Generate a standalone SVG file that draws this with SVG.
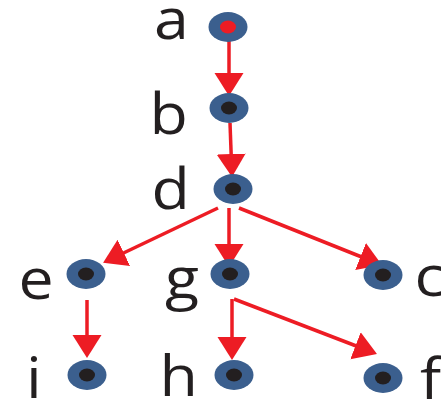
<svg xmlns="http://www.w3.org/2000/svg" width="441" height="400" viewBox="0 0 441 400">
<style>
.lbl{font-family:"Open Sans","Liberation Sans",sans-serif;font-size:56px;fill:#231f20}
.outer{fill:#3b5f8e}
.inner{fill:#231f20}
.edge{stroke:#ed1c24;stroke-width:3.5;fill:none}
</style>
<defs>
<marker id="ah" markerUnits="userSpaceOnUse" markerWidth="26" markerHeight="30" refX="12" refY="14.5" orient="auto" viewBox="0 0 26 30">
<path d="M0,0 L23,14.5 L0,29 z" fill="#ed1c24"/>
</marker>
</defs>
<rect width="441" height="400" fill="#ffffff"/>
<g id="connectors">
<line class="edge" x1="229" y1="41" x2="229" y2="85" marker-end="url(#ah)"/>
<line class="edge" x1="230" y1="123" x2="231.6" y2="166" marker-end="url(#ah)"/>
<line class="edge" x1="218" y1="208" x2="113" y2="258" marker-end="url(#ah)"/>
<line class="edge" x1="229" y1="208" x2="229" y2="256" marker-end="url(#ah)"/>
<line class="edge" x1="239" y1="208" x2="371.7" y2="261" marker-end="url(#ah)"/>
<line class="edge" x1="87" y1="300" x2="87" y2="347" marker-end="url(#ah)"/>
<line class="edge" x1="232" y1="299" x2="232" y2="349" marker-end="url(#ah)"/>
<line class="edge" x1="234" y1="299" x2="366.7" y2="350" marker-end="url(#ah)"/>
</g>
<g id="node-a"><ellipse class="outer" cx="228" cy="27" rx="19.5" ry="15"/><ellipse cx="228" cy="27" rx="8" ry="6.5" fill="#ed1c24"/><text class="lbl" transform="translate(154,39) scale(1.12,1)">a</text></g>
<g id="node-b"><ellipse class="outer" cx="229" cy="108" rx="19.5" ry="15"/><ellipse class="inner" cx="229" cy="108" rx="8" ry="6.5"/><text class="lbl" transform="translate(149.5,134) scale(1.12,1)">b</text></g>
<g id="node-d"><ellipse class="outer" cx="233" cy="189" rx="19.5" ry="15"/><ellipse class="inner" cx="233" cy="189" rx="8" ry="6.5"/><text class="lbl" transform="translate(151.5,209) scale(1.12,1)">d</text></g>
<g id="node-e"><ellipse class="outer" cx="86" cy="274" rx="19.5" ry="15"/><ellipse class="inner" cx="86" cy="274" rx="8" ry="6.5"/><text class="lbl" transform="translate(18.5,299) scale(1.12,1)">e</text></g>
<g id="node-g"><ellipse class="outer" cx="230" cy="274" rx="19.5" ry="15"/><ellipse class="inner" cx="230" cy="274" rx="8" ry="6.5"/><text class="lbl" transform="translate(165,298) scale(1.12,1)">g</text></g>
<g id="node-c"><ellipse class="outer" cx="383" cy="275" rx="19.5" ry="15"/><ellipse class="inner" cx="383" cy="275" rx="8" ry="6.5"/><text class="lbl" transform="translate(414.5,296) scale(1.12,1)">c</text></g>
<g id="node-i"><ellipse class="outer" cx="87" cy="375" rx="19.5" ry="15"/><ellipse class="inner" cx="87" cy="375" rx="8" ry="6.5"/><text class="lbl" transform="translate(26,398) scale(1.12,1)">i</text></g>
<g id="node-h"><ellipse class="outer" cx="234" cy="375" rx="19.5" ry="15"/><ellipse class="inner" cx="234" cy="375" rx="8" ry="6.5"/><text class="lbl" transform="translate(159.5,396) scale(1.12,1)">h</text></g>
<g id="node-f"><ellipse class="outer" cx="383" cy="378" rx="19.5" ry="15"/><ellipse class="inner" cx="383" cy="378" rx="8" ry="6.5"/><text class="lbl" transform="translate(420,399) scale(1.12,1)">f</text></g>
</svg>
